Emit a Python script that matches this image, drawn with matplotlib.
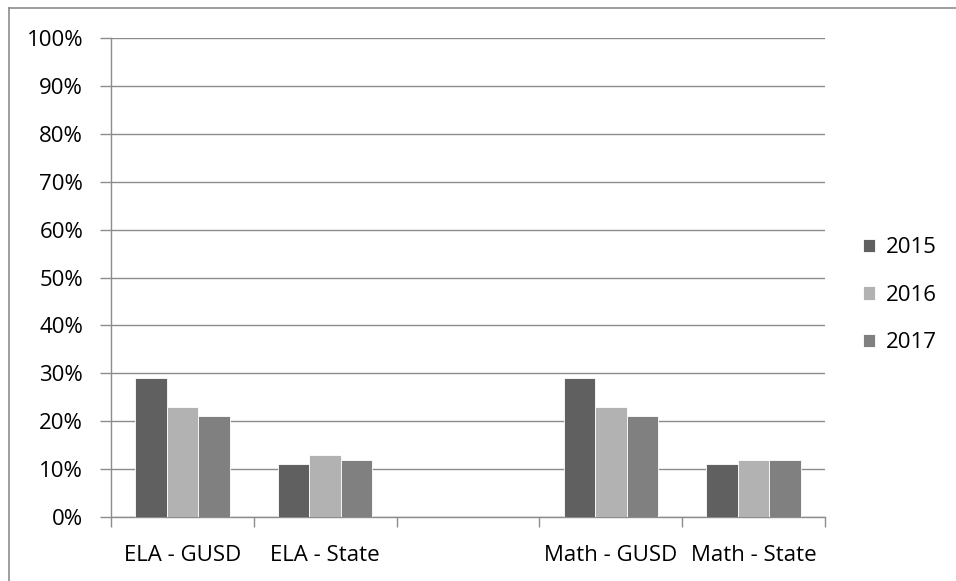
import matplotlib
matplotlib.use("Agg")
import matplotlib.pyplot as plt
from matplotlib.lines import Line2D
from matplotlib.ticker import FuncFormatter
import numpy as np

plt.rcParams['font.family'] = ['Open Sans', 'DejaVu Sans']

# data (percent)
categories = ["ELA - GUSD", "ELA - State", "", "Math - GUSD", "Math - State"]
years = ["2015", "2016", "2017"]
vals_2015 = [29, 11, np.nan, 29, 11]
vals_2016 = [23, 13, np.nan, 23, 12]
vals_2017 = [21, 12, np.nan, 21, 12]
colors = ["#606060", "#b2b2b2", "#808080"]

W, H = 956, 581
fig = plt.figure(figsize=(W / 100, H / 100), dpi=100)
ax = fig.add_axes([111 / W, (H - 517) / H, 714 / W, 479 / H])

x = np.arange(len(categories))
bw = 0.22
series = [vals_2015, vals_2016, vals_2017]
for k, (vals, c, yr) in enumerate(zip(series, colors, years)):
    ax.bar(x + (k - 1) * bw, vals, bw, color=c, edgecolor="white",
           linewidth=0.6, label=yr, zorder=3)

ax.set_xlim(-0.5, len(categories) - 0.5)
ax.set_ylim(0, 100)
ax.set_yticks(np.arange(0, 101, 10))
ax.yaxis.set_major_formatter(FuncFormatter(lambda v, p: "%d%%" % v))
ax.yaxis.grid(True, color="#8c8c8c", linewidth=1, zorder=0)

ax.set_xticks(x)
ax.set_xticklabels(categories)
ax.set_xticks(np.arange(-0.5, len(categories)), minor=True)
ax.tick_params(axis="x", which="major", length=0, pad=20, labelsize=16)
ax.tick_params(axis="x", which="minor", length=7, color="#8c8c8c", width=1)
ax.tick_params(axis="y", length=8, color="#8c8c8c", width=1, labelsize=16, pad=12)

for s in ["top", "right"]:
    ax.spines[s].set_visible(False)
for s in ["left", "bottom"]:
    ax.spines[s].set_color("#8c8c8c")
    ax.spines[s].set_linewidth(1)

leg = ax.legend(loc="center left", bbox_to_anchor=(1.025, 0.463), frameon=False,
                fontsize=16, handlelength=0.55, handleheight=0.55,
                handletextpad=0.5, labelspacing=1.2)

# outer chart frame (only top/left visible in the reference)
fig.add_artist(Line2D([9 / W, 1], [1 - 8 / H, 1 - 8 / H], color="#8c8c8c", lw=1.2))
fig.add_artist(Line2D([9 / W, 9 / W], [0, 1 - 8 / H], color="#8c8c8c", lw=1.2))

fig.savefig("out.png", dpi=100)
